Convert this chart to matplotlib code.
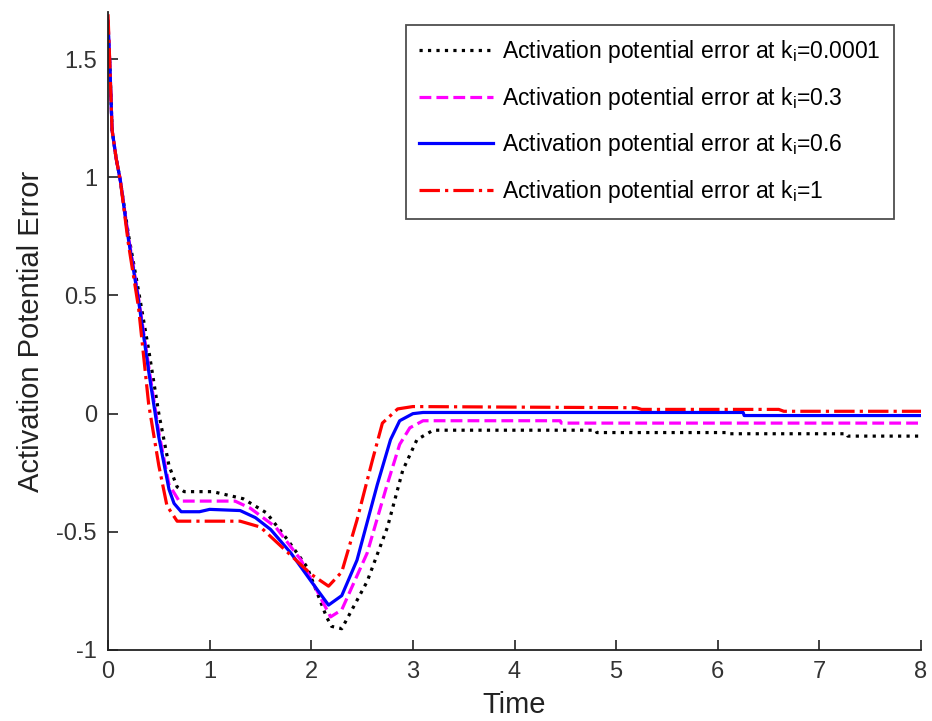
import numpy as np
import matplotlib.pyplot as plt

plt.rcParams['font.family'] = ['Liberation Sans', 'DejaVu Sans']
plt.rcParams['mathtext.fontset'] = 'custom'
plt.rcParams['mathtext.rm'] = 'Liberation Sans'

# activation potential error for each integral gain k_i
t_0001 = [0, 0.02, 0.04, 0.08, 0.12, 0.2, 0.3, 0.4, 0.5, 0.6, 0.68, 0.75, 1.03, 1.33, 1.56, 1.76,
          1.96, 2.15, 2.2, 2.3, 2.55, 2.75, 2.9, 3.04, 3.2, 4.8, 4.81, 6.1, 6.11, 7.27, 7.28, 8]
e_0001 = [1.64, 1.45, 1.2, 1.08, 0.99, 0.76, 0.52, 0.27, 0.0, -0.22, -0.31, -0.33, -0.33, -0.36, -0.42, -0.53,
          -0.65, -0.86, -0.9, -0.91, -0.71, -0.48, -0.24, -0.11, -0.07, -0.07, -0.08, -0.08, -0.085, -0.085, -0.095, -0.095]

t_03 = [0, 0.02, 0.04, 0.08, 0.12, 0.2, 0.3, 0.4, 0.5, 0.6, 0.7, 1.25, 1.4, 1.65, 1.9, 2.19,
        2.3, 2.55, 2.74, 2.87, 2.97, 3.1, 4.45, 4.46, 8]
e_03 = [1.66, 1.45, 1.2, 1.08, 0.99, 0.75, 0.49, 0.2, -0.08, -0.3, -0.37, -0.37, -0.4, -0.48, -0.62, -0.86,
        -0.83, -0.59, -0.31, -0.13, -0.06, -0.03, -0.03, -0.04, -0.04]

t_06 = [0, 0.02, 0.04, 0.08, 0.12, 0.2, 0.3, 0.4, 0.5, 0.6, 0.65, 0.72, 0.9, 1.0, 1.3, 1.45, 1.6,
        1.8, 2.0, 2.17, 2.3, 2.45, 2.65, 2.78, 2.87, 3.0, 3.1, 6.25, 6.26, 8]
e_06 = [1.66, 1.45, 1.2, 1.08, 0.99, 0.74, 0.48, 0.18, -0.1, -0.32, -0.38, -0.415, -0.415, -0.405, -0.41, -0.44, -0.49,
        -0.59, -0.71, -0.81, -0.77, -0.62, -0.3, -0.11, -0.03, 0.0, 0.005, 0.005, -0.008, -0.008]

t_1 = [0, 0.02, 0.04, 0.08, 0.12, 0.2, 0.3, 0.4, 0.5, 0.58, 0.68, 1.3, 1.5, 1.6, 1.8, 2.0, 2.17,
       2.3, 2.45, 2.6, 2.7, 2.85, 3.0, 5.2, 5.25, 6.6, 6.65, 8]
e_1 = [1.69, 1.45, 1.2, 1.08, 0.99, 0.72, 0.45, 0.04, -0.22, -0.39, -0.455, -0.455, -0.48, -0.52, -0.6, -0.68, -0.73,
       -0.67, -0.45, -0.2, -0.04, 0.02, 0.03, 0.025, 0.018, 0.018, 0.01, 0.01]

labels = [r'Activation potential error at k$_\mathregular{i}$=0.0001',
          r'Activation potential error at k$_\mathregular{i}$=0.3',
          r'Activation potential error at k$_\mathregular{i}$=0.6',
          r'Activation potential error at k$_\mathregular{i}$=1']

fig = plt.figure(figsize=(9.32, 7.21), dpi=100)
ax = fig.add_axes([0.1159, 0.0985, 0.8723, 0.885])

ax.plot(t_0001, e_0001, color='black', linestyle=':', linewidth=2.3, label=labels[0])
ax.plot(t_03, e_03, color='magenta', linestyle='--', linewidth=2.3, label=labels[1])
ax.plot(t_06, e_06, color='blue', linestyle='-', linewidth=2.3, label=labels[2])
ax.plot(t_1, e_1, color='red', linestyle='-.', linewidth=2.3, label=labels[3])

ax.set_xlim(0, 8)
ax.set_ylim(-1, 1.7)
ax.set_xticks(np.arange(0, 9, 1))
ax.set_yticks([-1, -0.5, 0, 0.5, 1, 1.5])
ax.set_yticklabels(['-1', '-0.5', '0', '0.5', '1', '1.5'])

ax.spines['top'].set_visible(False)
ax.spines['right'].set_visible(False)
for s in ['left', 'bottom']:
    ax.spines[s].set_color('#222222')
    ax.spines[s].set_linewidth(1.3)
ax.tick_params(direction='in', length=7, width=1.3, labelsize=17, colors='#333333', pad=8)

ax.set_xlabel('Time', fontsize=21, color='#222222', labelpad=6)
ax.set_ylabel('Activation Potential Error', fontsize=21, color='#222222', labelpad=8)

leg = ax.legend(loc='upper right', bbox_to_anchor=(0.967, 0.98), fontsize=16.5, frameon=True,
                fancybox=False, edgecolor='#222222', handlelength=3.2, labelspacing=0.85,
                borderpad=0.6, handletextpad=0.4, borderaxespad=0)
leg.get_frame().set_linewidth(1.3)

fig.savefig('out.png', dpi=100, facecolor='white')
